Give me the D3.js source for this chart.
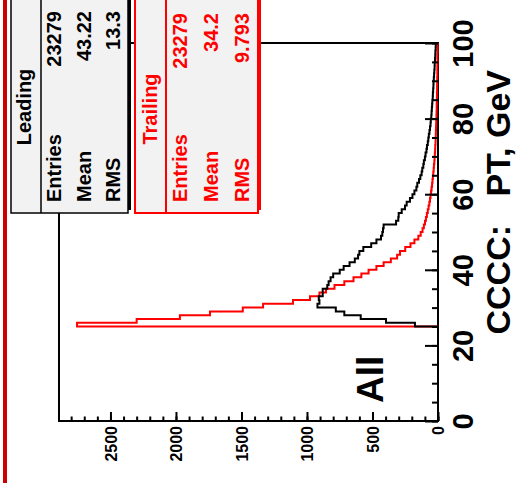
<!DOCTYPE html>
<html>
<head>
<meta charset="utf-8">
<script src="https://cdn.jsdelivr.net/npm/d3@7"></script>
<style>
  html, body { margin: 0; padding: 0; background: #fff; }
  svg { display: block; font-family: "Liberation Sans", Arial, Helvetica, sans-serif; font-weight: bold; }
</style>
</head>
<body>
<svg id="canvas" width="517" height="489"></svg>
<script>
// ---- data: PT spectra, 1 GeV bins, first filled bin starts at 25 GeV ----
const binLow = 25;
const ptTicks = [0, 20, 40, 60, 80, 100];
const countTicks = [0, 500, 1000, 1500, 2000, 2500];

const leadingCounts = [
  176, 397, 590, 715, 780,
  920, 905, 910, 880, 880,
  845, 835, 820, 800, 750,
  720, 675, 635, 610, 600,
  570, 510, 470, 435, 425,
  420, 415, 320, 303, 300,
  277, 252, 239, 214, 195,
  180, 165, 158, 145, 135,
  125, 120, 112, 108, 100,
  95, 88, 84, 78, 74,
  70, 65, 61, 57, 55,
  51, 49, 47, 45, 43,
  40, 39, 37, 35, 34,
  32, 30, 28, 26, 25,
  23, 21, 20, 18, 17
];

const trailingCounts = [
  2755, 2300, 1970, 1740, 1490,
  1335, 1107, 977, 905, 855,
  790, 715, 645, 585, 530,
  470, 415, 360, 312, 290,
  250, 210, 180, 150, 132,
  118, 108, 99, 92, 85,
  78, 72, 66, 61, 57,
  53, 49, 45, 42, 39,
  36, 33, 31, 28, 26,
  24, 22, 21, 19, 18,
  17, 16, 15, 14, 13,
  12, 11, 10, 10, 9,
  8, 8, 7, 7, 6,
  6, 5, 5, 5, 4,
  4, 4, 3, 3, 3
];

const statNames = ["Entries", "Mean", "RMS"];
const leadingStats = ["23279", "43.22", "13.3"];
const trailingStats = ["23279", "34.2", "9.793"];

// ---- layout (the pad is drawn turned a quarter turn: PT runs upward) ----
const svg = d3.select("#canvas");
const frame = { left: 59, right: 438, top: 43, bottom: 421 };

const maxCount = d3.max(leadingCounts.concat(trailingCounts)) * 1.05;
const pt = d3.scaleLinear().domain([0, 100]).range([frame.bottom, frame.top]);
const cnt = d3.scaleLinear().domain([0, maxCount]).range([frame.right, frame.left]);

// dark red bar along the left edge
svg.append("rect")
  .attr("x", 3).attr("y", 0).attr("width", 4).attr("height", 483)
  .attr("fill", "#cc0000");

// frame
svg.append("rect")
  .attr("x", frame.left).attr("y", frame.top)
  .attr("width", frame.right - frame.left).attr("height", frame.bottom - frame.top)
  .attr("fill", "none").attr("stroke", "#000").attr("stroke-width", 2);

// step outline of a histogram
function outline(counts) {
  const pts = [[0, 0], [0, binLow]];
  counts.forEach((n, i) => {
    pts.push([n, binLow + i]);
    pts.push([n, binLow + i + 1]);
  });
  pts.push([0, binLow + counts.length]);
  return d3.line().x(d => cnt(d[0])).y(d => pt(d[1]))(pts);
}

svg.append("path").attr("d", outline(trailingCounts))
  .attr("fill", "none").attr("stroke", "#ff0000").attr("stroke-width", 2);
svg.append("path").attr("d", outline(leadingCounts))
  .attr("fill", "none").attr("stroke", "#000").attr("stroke-width", 2);

// ---- PT axis (right side): ticks point into the frame ----
function strip(g) { g.select(".domain").remove(); g.attr("font-family", null).attr("font-size", null); }

svg.append("g").attr("transform", `translate(${frame.right},0)`)
  .call(d3.axisLeft(pt).tickValues(d3.range(0, 101, 5)).tickSize(6).tickFormat(""))
  .call(strip)
  .selectAll("line").attr("stroke", "#000").attr("stroke-width", 2);
svg.append("g").attr("transform", `translate(${frame.right},0)`)
  .call(d3.axisLeft(pt).tickValues(ptTicks).tickSize(13).tickFormat(""))
  .call(strip)
  .selectAll("line").attr("stroke", "#000").attr("stroke-width", 2);

const ptLab = svg.append("g").attr("transform", `translate(${frame.right},0)`)
  .call(d3.axisRight(pt).tickValues(ptTicks).tickSize(0).tickFormat(d3.format("d")))
  .call(strip);
ptLab.selectAll("text")
  .attr("x", null).attr("dy", null)
  .attr("transform", "translate(35,0) rotate(-90)")
  .attr("text-anchor", "middle")
  .attr("font-size", 29).attr("fill", "#000");

// ---- count axis (bottom): ticks point into the frame ----
svg.append("g").attr("transform", `translate(0,${frame.bottom})`)
  .call(d3.axisTop(cnt).tickValues(d3.range(0, 2801, 100)).tickSize(4.5).tickFormat(""))
  .call(strip)
  .selectAll("line").attr("stroke", "#000").attr("stroke-width", 2);
svg.append("g").attr("transform", `translate(0,${frame.bottom})`)
  .call(d3.axisTop(cnt).tickValues(countTicks).tickSize(9).tickFormat(""))
  .call(strip)
  .selectAll("line").attr("stroke", "#000").attr("stroke-width", 2);

const cntLab = svg.append("g").attr("transform", `translate(0,${frame.bottom})`)
  .call(d3.axisBottom(cnt).tickValues(countTicks).tickSize(0).tickFormat(d3.format("d")))
  .call(strip);
cntLab.selectAll("text")
  .attr("y", null).attr("dy", "0.36em").attr("x", -5)
  .attr("transform", "rotate(-90)")
  .attr("text-anchor", "end")
  .attr("font-size", 16).attr("fill", "#000");

// axis title
svg.append("text")
  .attr("transform", "translate(510,70) rotate(-90)")
  .attr("text-anchor", "end")
  .attr("font-size", 34)
  .style("white-space", "pre")
  .text("CCCC:   PT, GeV");

// sample label
svg.append("text")
  .attr("transform", "translate(383,403) rotate(-90)")
  .attr("font-size", 37)
  .text("All");

// ---- statistics boxes ----
function statBox(o) {
  const g = svg.append("g");
  g.append("rect")
    .attr("x", o.x + 3).attr("y", o.y - 3).attr("width", o.w).attr("height", o.h)
    .attr("fill", o.color);
  g.append("rect")
    .attr("x", o.x).attr("y", o.y).attr("width", o.w).attr("height", o.h)
    .attr("fill", "#f2f2f2").attr("stroke", o.color).attr("stroke-width", o.sw);
  g.append("line")
    .attr("x1", o.div).attr("x2", o.div).attr("y1", o.y).attr("y2", o.y + o.h)
    .attr("stroke", o.color).attr("stroke-width", o.sw);
  g.append("text")
    .attr("transform", `translate(${o.titleX},${o.titleY}) rotate(-90)`)
    .attr("text-anchor", "middle").attr("font-size", 20).attr("fill", o.color)
    .text(o.title);
  statNames.forEach((name, i) => {
    const bx = o.row0 + i * o.rowStep;
    g.append("text")
      .attr("transform", `translate(${bx},${o.labelY}) rotate(-90)`)
      .attr("text-anchor", "start").attr("font-size", 20).attr("fill", o.color)
      .text(name);
    g.append("text")
      .attr("transform", `translate(${bx},${o.valueY}) rotate(-90)`)
      .attr("text-anchor", "end").attr("font-size", 20).attr("fill", o.color)
      .text(o.values[i]);
  });
}

statBox({ x: 11, y: -10, w: 117, h: 223, div: 41, color: "#000", sw: 1.5,
  title: "Leading", titleX: 31, titleY: 107, row0: 61, rowStep: 29.5,
  labelY: 202, valueY: 11, values: leadingStats });
statBox({ x: 135, y: -10, w: 123, h: 223, div: 166, color: "#ff0000", sw: 2,
  title: "Trailing", titleX: 156.5, titleY: 109, row0: 186.5, rowStep: 31.3,
  labelY: 202, valueY: 13, values: trailingStats });
</script>
</body>
</html>
